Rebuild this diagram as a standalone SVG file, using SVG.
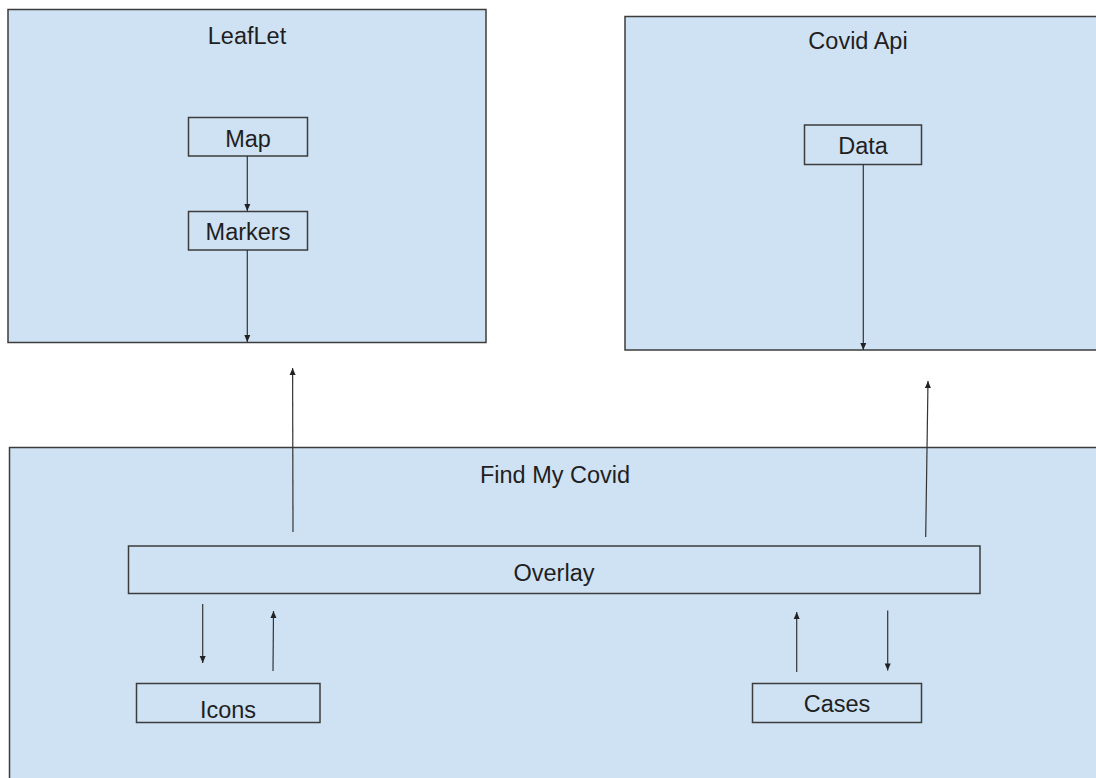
<svg xmlns="http://www.w3.org/2000/svg" width="1096" height="778" viewBox="0 0 1096 778">
<style>
.box{fill:#cfe2f3;stroke:#3c3c3c;stroke-width:1.5}
.inner{fill:#cfe2f3;stroke:#3c3c3c;stroke-width:1.5}
.lbl{font-family:"Liberation Sans",Arial,sans-serif;font-size:23.5px;fill:#1f1f1f;text-anchor:middle}
.con{stroke:#333;stroke-width:1.2;fill:none;marker-end:url(#ah)}
</style>
<defs>
<marker id="ah" viewBox="0 0 10 10" refX="10" refY="5" markerWidth="7" markerHeight="6" markerUnits="userSpaceOnUse" orient="auto" overflow="visible" preserveAspectRatio="none">
<path d="M0,0 L10,5 L0,10 z" fill="#222"/>
</marker>
</defs>
<rect width="1096" height="778" fill="#ffffff"/>
<g id="leaflet">
<rect class="box" x="8" y="9.5" width="478" height="333"/>
<text class="lbl" x="247" y="44">LeafLet</text>
</g>
<g id="covid-api">
<rect class="box" x="625" y="16.5" width="480" height="333.5"/>
<text class="lbl" x="858" y="49">Covid Api</text>
</g>
<g id="find-my-covid">
<rect class="box" x="9.5" y="447.5" width="1100" height="340"/>
<text class="lbl" x="555" y="483">Find My Covid</text>
</g>
<g id="map">
<rect class="inner" x="188.5" y="117.5" width="119" height="38.5"/>
<text class="lbl" x="248" y="146.5">Map</text>
</g>
<g id="markers">
<rect class="inner" x="188.5" y="211.5" width="119" height="38.5"/>
<text class="lbl" x="248" y="240">Markers</text>
</g>
<g id="data">
<rect class="inner" x="804.5" y="125" width="117" height="39.5"/>
<text class="lbl" x="863" y="154">Data</text>
</g>
<g id="overlay">
<rect class="inner" x="128.5" y="546" width="851.5" height="47.5"/>
<text class="lbl" x="554" y="581">Overlay</text>
</g>
<g id="icons">
<rect class="inner" x="136.5" y="683.5" width="183.5" height="39"/>
<text class="lbl" x="228" y="718">Icons</text>
</g>
<g id="cases">
<rect class="inner" x="752.5" y="683.5" width="169" height="39"/>
<text class="lbl" x="837" y="711.5">Cases</text>
</g>
<g id="connectors">
<line class="con" x1="247.3" y1="156" x2="247.3" y2="211"/>
<line class="con" x1="247.3" y1="250" x2="247.3" y2="342"/>
<line class="con" x1="863.3" y1="164.5" x2="863.3" y2="350"/>
<line class="con" x1="293" y1="532" x2="292.6" y2="368"/>
<line class="con" x1="925.7" y1="537" x2="928" y2="381"/>
<line class="con" x1="202.7" y1="604" x2="202.7" y2="663"/>
<line class="con" x1="273" y1="671" x2="273.5" y2="611"/>
<line class="con" x1="796.7" y1="672" x2="796.7" y2="612"/>
<line class="con" x1="887.7" y1="610.5" x2="887.7" y2="670.5"/>
</g>
</svg>
